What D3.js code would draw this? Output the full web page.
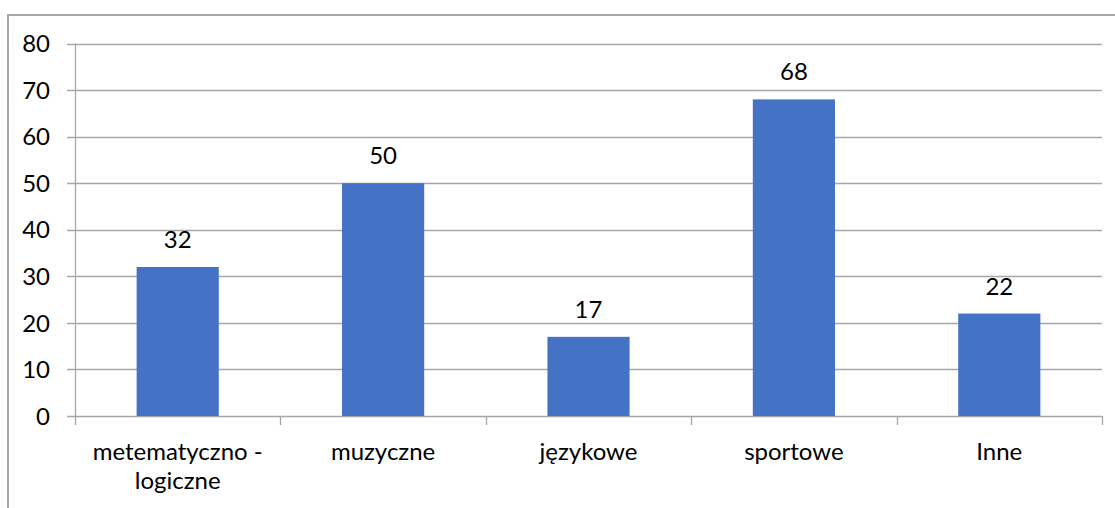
<!DOCTYPE html>
<html><head><meta charset="utf-8">
<script src="https://cdn.jsdelivr.net/npm/d3@7"></script>
<style>html,body{margin:0;padding:0;background:#fff;}svg{display:block;}</style>
</head><body>
<script>
const categories = ["metematyczno - logiczne", "muzyczne", "językowe", "sportowe", "Inne"];
const values = [32, 50, 17, 68, 22];
const yTicks = [0, 10, 20, 30, 40, 50, 60, 70, 80];

(function () {
const W = 1115, H = 508;
const svg = d3.select("body").append("svg").attr("width", W).attr("height", H);
const font = "Lato, 'Open Sans', sans-serif";
const fs = 24;

// outer chart border
svg.append("rect").attr("x", 8).attr("y", 15).attr("width", 1130).attr("height", 520)
  .attr("fill", "none").attr("stroke", "#a6a6a6").attr("stroke-width", 2);

const pLeft = 75, pRight = 1102, pTop = 43.5, pBottom = 416;
const x = d3.scaleBand().domain(categories).range([pLeft, pRight]).paddingInner(0.6).paddingOuter(0.3);
const y = d3.scaleLinear().domain([0, 80]).range([pBottom, pTop]);

// gridlines
svg.append("g").selectAll("line").data(yTicks).join("line")
  .attr("x1", pLeft - 8).attr("x2", pRight)
  .attr("y1", d => Math.round(y(d)) + 0.5).attr("y2", d => Math.round(y(d)) + 0.5)
  .attr("stroke", "#a6a6a6").attr("stroke-width", 1.3);

svg.append("g").selectAll("text").data(yTicks).join("text")
  .attr("x", 50).attr("y", d => y(d)).attr("dy", "0.36em")
  .attr("text-anchor", "end").attr("font-family", font).attr("font-size", fs).attr("fill", "#000")
  .text(d => d);

// y axis line
svg.append("line").attr("x1", pLeft + 0.5).attr("x2", pLeft + 0.5).attr("y1", pTop).attr("y2", pBottom)
  .attr("stroke", "#a6a6a6").attr("stroke-width", 1.3);

// x category tick marks
const step = (pRight - pLeft) / categories.length;
const bounds = d3.range(categories.length + 1).map(i => pLeft + i * step);
svg.append("g").selectAll("line").data(bounds).join("line")
  .attr("x1", d => Math.round(d) + 0.5).attr("x2", d => Math.round(d) + 0.5)
  .attr("y1", pBottom).attr("y2", pBottom + 9)
  .attr("stroke", "#a6a6a6").attr("stroke-width", 1.3);

// bars
svg.append("g").selectAll("rect").data(values).join("rect")
  .attr("x", (d, i) => x(categories[i])).attr("width", x.bandwidth())
  .attr("y", d => y(d)).attr("height", d => y(0) - y(d))
  .attr("fill", "#4472c4");

// value labels
svg.append("g").selectAll("text").data(values).join("text")
  .attr("x", (d, i) => x(categories[i]) + x.bandwidth() / 2)
  .attr("y", d => y(d) - 19)
  .attr("text-anchor", "middle").attr("font-family", font).attr("font-size", fs).attr("fill", "#000")
  .text(d => d);

// category labels
const catLines = [["metematyczno -", "logiczne"], ["muzyczne"], ["językowe"], ["sportowe"], ["Inne"]];
const cg = svg.append("g");
categories.forEach((c, i) => {
  const cx = x(c) + x.bandwidth() / 2;
  const t = cg.append("text")
    .attr("x", cx).attr("y", 460)
    .attr("text-anchor", "middle").attr("font-family", font).attr("font-size", fs).attr("fill", "#000");
  catLines[i].forEach((ln, j) => {
    t.append("tspan").attr("x", cx).attr("dy", j === 0 ? 0 : 29).text(ln);
  });
});
})();
</script>
</body></html>
